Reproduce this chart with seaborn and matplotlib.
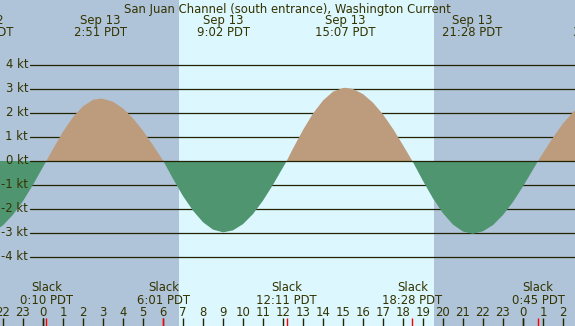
import numpy as np
import pandas as pd
import matplotlib
matplotlib.use('Agg')
import matplotlib.pyplot as plt
import seaborn as sns

# current speed readings (hours from midnight Sep 13 PDT, knots)
aHour = [-3.0, -2.5, -2.0, -1.5, -1.0, -0.5, 0.0, 0.167,
         0.5, 1.0, 1.5, 2.0, 2.5, 2.85, 3.0, 3.5, 4.0, 4.5, 5.0, 5.5, 6.0, 6.017,
         6.5, 7.0, 7.5, 8.0, 8.5, 9.0, 9.033, 9.5, 10.0, 10.5, 11.0, 11.5, 12.0, 12.183,
         12.5, 13.0, 13.5, 14.0, 14.5, 15.0, 15.117, 15.5, 16.0, 16.5, 17.0, 17.5, 18.0, 18.467,
         18.5, 19.0, 19.5, 20.0, 20.5, 21.0, 21.467, 21.5, 22.0, 22.5, 23.0, 23.5, 24.0, 24.5, 24.75,
         25.0, 25.5, 26.0, 26.5, 27.0, 27.5, 27.8]
aSpeed = [-3.05, -2.96, -2.68, -2.24, -1.67, -0.99, -0.25, 0.0,
          0.50, 1.22, 1.83, 2.28, 2.55, 2.60, 2.59, 2.47, 2.19, 1.78, 1.26, 0.66, 0.02, 0.0,
          -0.74, -1.46, -2.07, -2.55, -2.86, -2.97, -2.97, -2.89, -2.63, -2.21, -1.65, -0.99, -0.27, 0.0,
          0.52, 1.29, 1.98, 2.52, 2.89, 3.04, 3.05, 3.00, 2.79, 2.43, 1.94, 1.34, 0.66, 0.0,
          -0.05, -0.83, -1.56, -2.18, -2.65, -2.94, -3.03, -3.03, -2.93, -2.67, -2.25, -1.71, -1.06, -0.36, 0.0,
          0.33, 0.98, 1.56, 2.04, 2.38, 2.57, 2.60]

# max current events (top labels)
aMax_hour = [-3.0, 2.85, 9.033, 15.117, 21.467, 27.8]
aMax_day = ['Sep 12', 'Sep 13', 'Sep 13', 'Sep 13', 'Sep 13', 'Sep 14']
aMax_time = ['21:00 PDT', '2:51 PDT', '9:02 PDT', '15:07 PDT', '21:28 PDT', '3:48 PDT']

# slack events (bottom labels)
aSlack_hour = [0.167, 6.017, 12.183, 18.467, 24.75]
aSlack_time = ['0:10 PDT', '6:01 PDT', '12:11 PDT', '18:28 PDT', '0:45 PDT']

aTick_hour = list(range(-2, 27))
aLevel = [4, 3, 2, 1, 0, -1, -2, -3, -4]
dSunrise = 6.8
dSunset = 19.55

sTitle = 'San Juan Channel (south entrance), Washington Current'

cNight = '#b0c4d9'
cDay = '#ddf7ff'
cFlood = '#bc9c7c'
cEbb = '#4f9670'
cText = '#333300'
cLine = '#222200'

sns.set_style('white')
plt.rcParams['font.family'] = ['DejaVu Sans']
fs = 8.4

W, H = 575, 326
fig = plt.figure(figsize=(W / 100, H / 100), dpi=100, facecolor=cNight)
ax = fig.add_axes([0, 0, 1, 1])
ax.set_xlim(-2.15, 26.6)
ax.set_ylim(-165 / 24, 161 / 24)
ax.axis('off')
ax.axvspan(dSunrise, dSunset, color=cDay, lw=0, zorder=0)

for lev in aLevel:
    ax.axhline(lev, xmin=30 / W, xmax=1, color=cLine, lw=0.9, zorder=1 if lev else 4)
    ax.text(28 / W, lev, '%d kt' % lev, transform=ax.get_yaxis_transform(),
            ha='right', va='center', fontsize=fs, color=cText)

df = pd.DataFrame({'hour': aHour, 'speed': aSpeed})
x = df['hour'].values
y = df['speed'].values
ax.fill_between(x, 0, y, where=y >= 0, interpolate=True, color=cFlood, lw=0, zorder=2)
ax.fill_between(x, 0, y, where=y <= 0, interpolate=True, color=cEbb, lw=0, zorder=2)

tx = ax.get_xaxis_transform()
ax.text(287 / W * 28.75 - 2.15, 1 - 13 / H, sTitle, transform=tx, ha='center', va='baseline',
        fontsize=fs, color=cText)
for h, d, t in zip(aMax_hour, aMax_day, aMax_time):
    ax.text(h, 1 - 24 / H, d, transform=tx, ha='center', va='baseline', fontsize=fs, color=cText)
    ax.text(h, 1 - 36 / H, t, transform=tx, ha='center', va='baseline', fontsize=fs, color=cText)
for h, t in zip(aSlack_hour, aSlack_time):
    ax.text(h, 1 - 291 / H, 'Slack', transform=tx, ha='center', va='baseline', fontsize=fs, color=cText)
    ax.text(h, 1 - 304 / H, t, transform=tx, ha='center', va='baseline', fontsize=fs, color=cText)
for h in aTick_hour:
    ax.text(h, 1 - 316 / H, str(h % 24), transform=tx, ha='center', va='baseline', fontsize=fs, color=cText)

# hour ticks along the bottom
sns.rugplot(x=aTick_hour, height=8 / H, color=cLine, lw=1, ax=ax)
sns.rugplot(x=[0, 24], height=8 / H, color=cLine, lw=3.2, ax=ax)
sns.rugplot(x=aSlack_hour, height=8 / H, color='red', lw=1, ax=ax)

plt.savefig('out.png', dpi=100, facecolor=cNight)
